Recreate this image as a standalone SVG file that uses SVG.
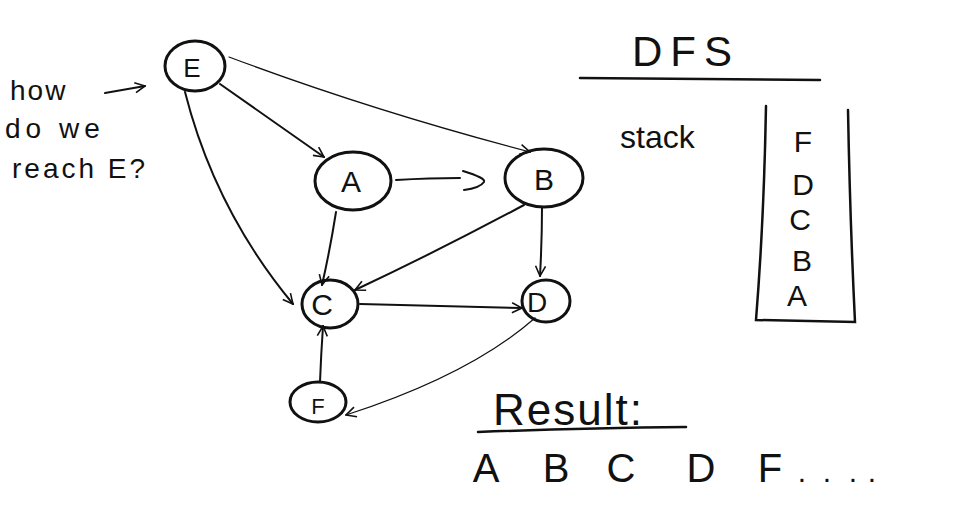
<svg xmlns="http://www.w3.org/2000/svg" width="960" height="512" viewBox="0 0 960 512">
<defs>
<style>
.nd{fill:none;stroke:#111;stroke-width:3}
.ed{fill:none;stroke:#111;stroke-width:2;stroke-linecap:round}
.th{stroke-width:1.2}
.lb{font-family:"Liberation Sans","DejaVu Sans",sans-serif;fill:#111;text-anchor:middle}
.tx{font-family:"Liberation Sans","DejaVu Sans",sans-serif;fill:#111}
.ln{fill:none;stroke:#111;stroke-width:2.5;stroke-linecap:round}
.dt{fill:#111}
</style>
<marker id="ah" viewBox="0 0 12 12" refX="11" refY="6" markerWidth="12" markerHeight="12" markerUnits="userSpaceOnUse" orient="auto">
<path d="M1,1 L11,6 L1,11" fill="none" stroke="#111" stroke-width="1.6"/>
</marker>
</defs>
<rect width="960" height="512" fill="#fff"/>
<g id="connectors">
<path class="ed" d="M220,84 L324,157" marker-end="url(#ah)"/>
<path class="ed th" d="M229,57 Q370,110 530,152" marker-end="url(#ah)"/>
<path class="ed" d="M185,92 Q215,210 293,304" marker-end="url(#ah)"/>
<path class="ed" d="M396,180 Q430,178 460,178"/>
<path class="ed" d="M463,171 Q486,178 484,182 Q480,188 464,190"/>
<path class="ed" d="M336,212 Q330,250 322,285" marker-end="url(#ah)"/>
<path class="ed" d="M524,205 Q440,250 355,290" marker-end="url(#ah)"/>
<path class="ed" d="M542,207 Q542,240 540,276" marker-end="url(#ah)"/>
<path class="ed" d="M360,304 Q450,306 522,308" marker-end="url(#ah)"/>
<path class="ed th" d="M535,318 Q470,375 346,415" marker-end="url(#ah)"/>
<path class="ed" d="M320,382 Q321,355 323,326" marker-end="url(#ah)"/>
<path class="ed" d="M105,93 L145,86" marker-end="url(#ah)"/>
</g>
<g id="node-E"><ellipse class="nd" cx="195" cy="66" rx="30" ry="25"/><text class="lb" x="192" y="77" font-size="26">E</text></g>
<g id="node-A"><ellipse class="nd" cx="353" cy="181" rx="38" ry="29"/><text class="lb" x="351" y="192" font-size="30">A</text></g>
<g id="node-B"><ellipse class="nd" cx="544" cy="178" rx="39" ry="29"/><text class="lb" x="544" y="190" font-size="30">B</text></g>
<g id="node-C"><ellipse class="nd" cx="330" cy="304" rx="28" ry="24"/><text class="lb" x="322" y="315" font-size="30">C</text></g>
<g id="node-D"><ellipse class="nd" cx="546" cy="301" rx="24" ry="21"/><text class="lb" x="537" y="312" font-size="28">D</text></g>
<g id="node-F"><ellipse class="nd" cx="318" cy="402" rx="28" ry="20"/><text class="lb" x="318" y="414" font-size="22">F</text></g>
<g id="notes">
<text class="tx" x="10" y="100" font-size="28" letter-spacing="2">how</text>
<text class="tx" x="5" y="138" font-size="28" letter-spacing="5">do we</text>
<text class="tx" x="12" y="178" font-size="28" letter-spacing="3">reach E?</text>
<text class="tx" x="632" y="66" font-size="42" letter-spacing="8">DFS</text>
<path class="ln" d="M580,78 L820,80"/>
<text class="tx" x="620" y="148" font-size="32">stack</text>
<path class="ln" d="M766,106 Q764,220 756,320 L855,322 Q850,220 848,110"/>
<text class="lb" x="803" y="152" font-size="30">F</text>
<text class="lb" x="803" y="195" font-size="30">D</text>
<text class="lb" x="800" y="230" font-size="30">C</text>
<text class="lb" x="802" y="271" font-size="30">B</text>
<text class="lb" x="797" y="306" font-size="30">A</text>
<text class="tx" x="493" y="425" font-size="44" letter-spacing="2">Result:</text>
<path class="ln" d="M478,432 Q580,428 686,427"/>
<text class="lb" x="486" y="482" font-size="40">A</text>
<text class="lb" x="556" y="482" font-size="40">B</text>
<text class="lb" x="621" y="482" font-size="40">C</text>
<text class="lb" x="701" y="482" font-size="40">D</text>
<text class="lb" x="770" y="482" font-size="40">F</text>
<text class="lb" x="802" y="482" font-size="30">.</text>
<text class="lb" x="827" y="482" font-size="30">.</text>
<text class="lb" x="853" y="482" font-size="30">.</text>
<text class="lb" x="872" y="482" font-size="30">.</text>
</g>
</svg>
